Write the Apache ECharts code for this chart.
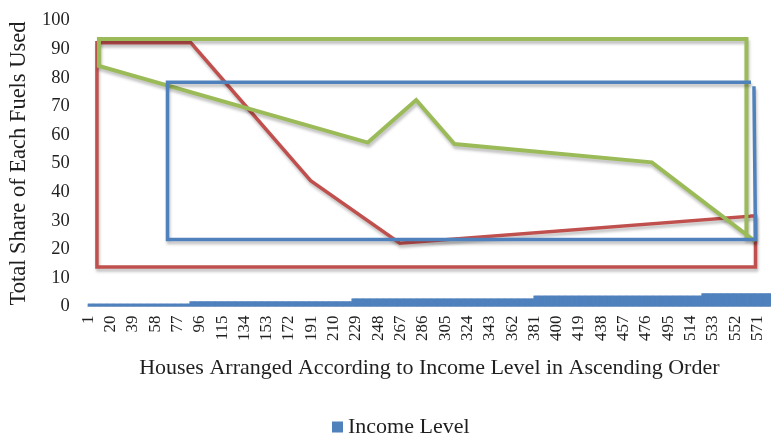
<!DOCTYPE html>
<html>
<head>
<meta charset="utf-8">
<script src="https://cdn.jsdelivr.net/npm/echarts@6/dist/echarts.min.js"></script>
<style>
  html, body { margin: 0; padding: 0; background: #fff; }
  #chart { width: 771px; height: 437px; }
</style>
</head>
<body>
<div id="chart"></div>
<script>
// Houses ranked by income (1 = lowest)
const houseCount = 582;
// Income level steps: first house of each band and the band's level
const incomeBandStart = [1, 88, 226, 381, 524];
const incomeBandLevel = [1, 1.8, 2.8, 3.8, 4.6];

// Fuel-share outlines: [house, share %]
const redPath = [
  [566.3, 31.6], [266.4, 22.1], [190.4, 44.0], [88.4, 92.2], [8.4, 92.2],
  [8.4, 13.8], [569.3, 13.8], [569.3, 31.6], [566.3, 31.6]
];
const greenPath = [
  [567.4, 23.3], [481.0, 50.4], [312.9, 56.8], [280.3, 72.2], [239.1, 57.3],
  [10.1, 84.1], [10.1, 93.5], [561.6, 93.5], [561.6, 24.0]
];
const bluePath = [
  [564.0, 78.4], [68.5, 78.4], [68.5, 23.4], [569.3, 23.4], [568.0, 76.4]
];

// Category labels and per-house income values
const houses = [];
const income = [];
for (let h = 1; h <= houseCount; h++) {
  houses.push(String(h));
  let band = 0;
  for (let b = 0; b < incomeBandStart.length; b++) {
    if (h >= incomeBandStart[b]) band = b;
  }
  income.push(incomeBandLevel[band]);
}

const serif = 'Liberation Serif';
const textColor = '#1f1f1f';
const shadow = {
  shadowColor: 'rgba(0,0,0,0.25)',
  shadowBlur: 3,
  shadowOffsetX: 1,
  shadowOffsetY: 3
};

function outline(name, data, color, width) {
  return {
    name: name,
    type: 'line',
    xAxisIndex: 1,
    data: data,
    symbol: 'none',
    silent: true,
    animation: false,
    z: 3,
    lineStyle: Object.assign({ color: color, width: width, cap: 'square', join: 'miter' }, shadow)
  };
}

const chart = echarts.init(document.getElementById('chart'), null, { renderer: 'canvas' });
chart.setOption({
  animation: false,
  grid: { left: 86.7, right: 0, top: 20.5, bottom: 130.5, containLabel: false },
  legend: {
    data: [{ name: 'Income Level', icon: 'rect' }],
    top: 411,
    left: 327,
    itemWidth: 11,
    itemHeight: 11,
    itemGap: 6,
    textStyle: { fontFamily: serif, fontSize: 22, color: textColor }
  },
  xAxis: [
    {
      type: 'category',
      data: houses,
      boundaryGap: true,
      axisTick: { show: false },
      axisLine: { show: true, lineStyle: { color: '#d9d9d9', width: 1 } },
      axisLabel: {
        interval: 18,
        rotate: 90,
        margin: 9,
        fontFamily: serif,
        fontSize: 17,
        color: textColor
      },
      name: 'Houses Arranged According to Income Level in Ascending Order',
      nameLocation: 'middle',
      nameGap: 51,
      nameTextStyle: { fontFamily: serif, fontSize: 22, color: textColor }
    },
    {
      type: 'value',
      min: 0.5,
      max: houseCount + 0.5,
      show: false
    }
  ],
  yAxis: {
    type: 'value',
    min: 0,
    max: 100,
    interval: 10,
    splitLine: { show: false },
    axisLine: { show: false },
    axisTick: { show: false },
    axisLabel: { margin: 18, fontFamily: serif, fontSize: 18.5, color: textColor },
    name: 'Total Share of Each Fuels Used',
    nameLocation: 'middle',
    nameGap: 54,
    nameTextStyle: { fontFamily: serif, fontSize: 22.5, color: textColor }
  },
  series: [
    {
      name: 'Income Level',
      type: 'bar',
      data: income,
      // bars slightly wider than a category so neighbours overlap without seams
      barWidth: 2,
      barGap: '-100%',
      itemStyle: { color: '#4F81BD' },
      silent: true
    },
    outline('Share A', redPath, '#C0504D', 3.5),
    outline('Share B', greenPath, '#9BBB59', 4),
    outline('Share C', bluePath, '#4F81BD', 3.5)
  ]
});
</script>
</body>
</html>
